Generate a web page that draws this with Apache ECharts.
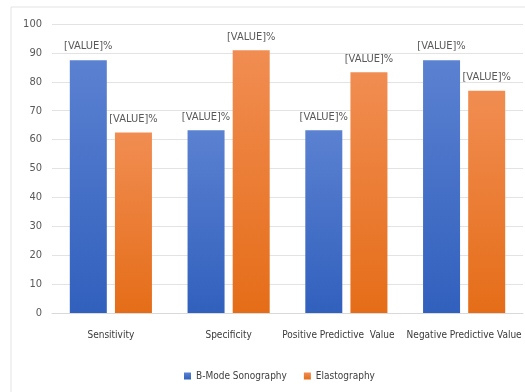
<!DOCTYPE html>
<html>
<head>
<meta charset="utf-8">
<title>Sonography vs Elastography</title>
<script src="https://cdn.jsdelivr.net/npm/echarts@6/dist/echarts.min.js"></script>
<style>
  html, body { margin: 0; padding: 0; background: #fff; }
  #chart { width: 525px; height: 392px; }
</style>
</head>
<body>
<div id="chart"></div>
<script>
// data
var categories = ['Sensitivity', 'Specificity', 'Positive Predictive  Value', 'Negative Predictive Value'];
var seriesNames = ['B-Mode Sonography', 'Elastography'];
var bMode = [87.5, 63.2, 63.2, 87.5];
var elasto = [62.5, 90.9, 83.3, 76.9];
var yTicks = [0, 10, 20, 30, 40, 50, 60, 70, 80, 90, 100];

var font = "'DejaVu Sans Condensed', 'Liberation Sans Narrow', 'Liberation Sans', sans-serif";

function grad(top, bottom) {
    return new echarts.graphic.LinearGradient(0, 0, 0, 1, [
        { offset: 0, color: top },
        { offset: 1, color: bottom }
    ]);
}

// the third category name sits a little left of its bars in the original
var labelShift = [0, 0, 16, 0];
var categoryItems = categories.map(function (name, i) {
    return { value: name, textStyle: { padding: [0, labelShift[i], 0, 0] } };
});

var labelStyle = {
    show: true,
    position: 'top',
    distance: 8,
    formatter: '[VALUE]%',
    color: '#595959',
    fontSize: 11,
    fontFamily: font
};

var myChart = echarts.init(document.getElementById('chart'));
var option = {
    animation: false,
    textStyle: { fontFamily: font },
    graphic: [{
        type: 'rect',
        shape: { x: 11, y: 7, width: 530, height: 400 },
        style: { fill: 'none', stroke: '#e3e3e3', lineWidth: 1 },
        silent: true
    }],
    legend: {
        data: seriesNames,
        bottom: 6,
        left: 179,
        itemWidth: 7,
        itemHeight: 7,
        itemGap: 17,
        icon: 'rect',
        textStyle: { color: '#404040', fontSize: 10, fontFamily: font }
    },
    grid: { left: 52, right: 2, top: 24, bottom: 79, containLabel: false },
    xAxis: {
        type: 'category',
        data: categoryItems,
        axisLine: { lineStyle: { color: '#d9d9d9' } },
        axisTick: { show: false },
        axisLabel: { interval: 0, color: '#3a3a3a', fontSize: 10, margin: 17, fontFamily: font }
    },
    yAxis: {
        type: 'value',
        min: yTicks[0],
        max: yTicks[yTicks.length - 1],
        interval: 10,
        axisLine: { show: false },
        axisTick: { show: false },
        axisLabel: { color: '#595959', fontSize: 11, margin: 10, fontFamily: font },
        splitLine: { lineStyle: { color: '#e3e3e3' } }
    },
    series: [{
        name: seriesNames[0],
        type: 'bar',
        data: bMode,
        barWidth: 37,
        barGap: '22%',
        itemStyle: { color: grad('#5b81d1', '#3160bd') },
        label: labelStyle
    }, {
        name: seriesNames[1],
        type: 'bar',
        data: elasto,
        barWidth: 37,
        itemStyle: { color: grad('#f18d52', '#e56d18') },
        label: labelStyle
    }]
};
myChart.setOption(option);
</script>
</body>
</html>
